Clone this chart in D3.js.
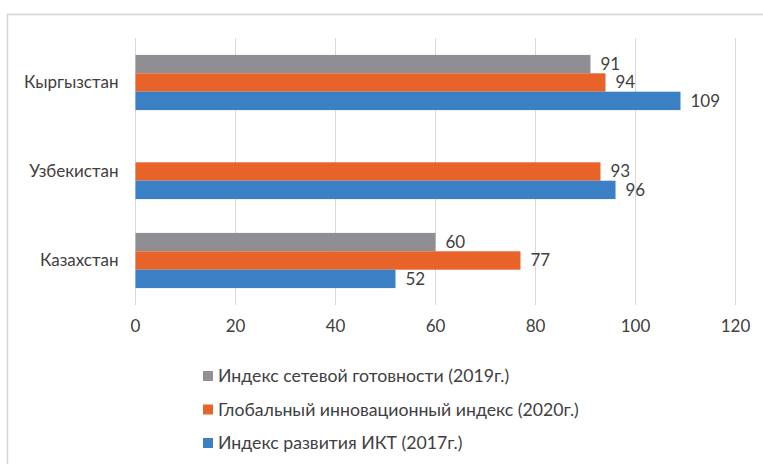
<!DOCTYPE html>
<html>
<head>
<meta charset="utf-8">
<script src="https://cdn.jsdelivr.net/npm/d3@7"></script>
<style>
  body { margin: 0; background: #fff; }
  #chart text { font-family: Lato, "Open Sans", sans-serif; fill: #404040; }
  .grid line { stroke: #d9d9d9; stroke-width: 1px; shape-rendering: crispEdges; }
</style>
</head>
<body>
<div id="chart"></div>
<script>
// countries top to bottom
var countries = ['Кыргызстан', 'Узбекистан', 'Казахстан'];
var seriesNames = [
  'Индекс сетевой готовности (2019г.)',
  'Глобальный инновационный индекс (2020г.)',
  'Индекс развития ИКТ (2017г.)'
];
var seriesColors = ['#908e93', '#e8632a', '#3b80c4'];
// values per series, same order as countries (null = no data)
var networkReadiness = [91, null, 60];
var innovationIndex = [94, 93, 77];
var ictIndex = [109, 96, 52];
var xTicks = [0, 20, 40, 60, 80, 100, 120];

var series = [networkReadiness, innovationIndex, ictIndex];

var W = 763, H = 464;
var margin = {top: 38, left: 135.5, right: 27.5, bottom: 159};
var width = W - margin.left - margin.right,
    height = H - margin.top - margin.bottom;

var svg = d3.select('#chart').append('svg')
  .attr('width', W).attr('height', H);

// outer frame, runs off the right and bottom edge
svg.append('rect')
  .attr('x', 7.5).attr('y', 14.5)
  .attr('width', 800).attr('height', 500)
  .style('fill', 'none').style('stroke', '#d4d4d4').style('stroke-width', '1.5px');

var g = svg.append('g').attr('transform', 'translate(' + margin.left + ',' + margin.top + ')');

var x = d3.scaleLinear().domain([0, 120]).range([0, width]);
var y0 = d3.scaleBand().domain(countries).range([0, height]).paddingInner(0.38).paddingOuter(0.19);
var y1 = d3.scaleBand().domain(d3.range(series.length)).range([0, y0.bandwidth()]);

// gridlines
g.append('g').attr('class', 'grid')
  .selectAll('line').data(xTicks).enter().append('line')
  .attr('x1', function(d){ return x(d); })
  .attr('x2', function(d){ return x(d); })
  .attr('y1', 0).attr('y2', height);

// x tick labels
g.append('g').selectAll('text').data(xTicks).enter().append('text')
  .attr('x', function(d){ return x(d); })
  .attr('y', height + 27)
  .attr('text-anchor', 'middle')
  .style('font-size', '17px')
  .text(function(d){ return d; });

// category labels
g.append('g').selectAll('text').data(countries).enter().append('text')
  .attr('x', -17)
  .attr('y', function(d){ return y0(d) + y0.bandwidth() / 2; })
  .attr('dy', '0.35em')
  .attr('text-anchor', 'end')
  .style('font-size', '17px')
  .text(function(d){ return d; });

// bars + value labels
series.forEach(function(vals, si){
  var rows = countries.map(function(c, i){ return {c: c, v: vals[i]}; })
    .filter(function(d){ return d.v != null; });
  var sg = g.append('g');
  sg.selectAll('rect').data(rows).enter().append('rect')
    .attr('x', x(0))
    .attr('y', function(d){ return y0(d.c) + y1(si); })
    .attr('width', function(d){ return x(d.v) - x(0); })
    .attr('height', y1.bandwidth())
    .style('fill', seriesColors[si]);
  sg.selectAll('text').data(rows).enter().append('text')
    .attr('x', function(d){ return x(d.v) + 10; })
    .attr('y', function(d){ return y0(d.c) + y1(si) + y1.bandwidth() / 2; })
    .attr('dy', '0.35em')
    .style('font-size', '17px')
    .text(function(d){ return d.v; });
});

// legend
var legend = svg.append('g').attr('transform', 'translate(203,376)');
var items = legend.selectAll('g').data(seriesNames).enter().append('g')
  .attr('transform', function(d, i){ return 'translate(0,' + (i * 33.5) + ')'; });
items.append('rect')
  .attr('x', 0).attr('y', -5).attr('width', 10).attr('height', 10)
  .style('fill', function(d, i){ return seriesColors[i]; });
items.append('text')
  .attr('x', 15).attr('dy', '0.35em')
  .style('font-size', '17.7px')
  .text(function(d){ return d; });
</script>
</body>
</html>
